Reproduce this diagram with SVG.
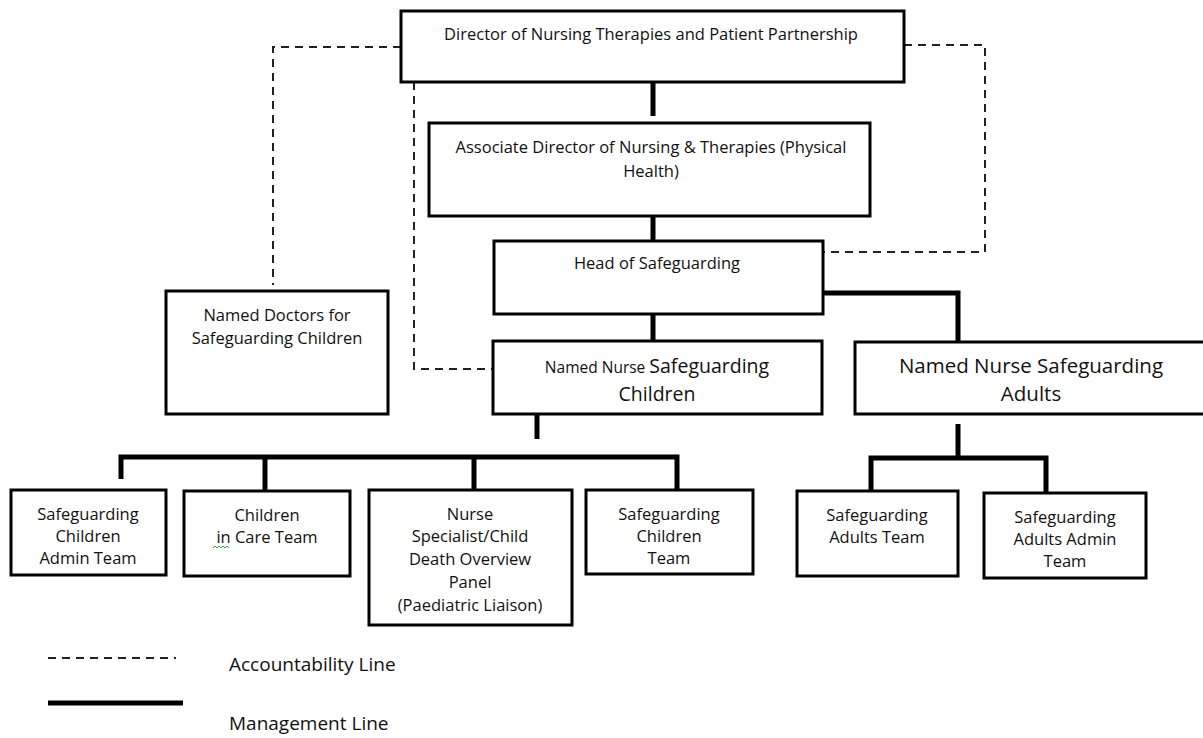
<svg xmlns="http://www.w3.org/2000/svg" width="1203" height="738" viewBox="0 0 1203 738">
<style>
.box{fill:#fff;stroke:#000;stroke-width:3}
.t{font-family:"Open Sans",Lato,sans-serif;font-size:16.5px;fill:#111;text-anchor:middle}
.tl{font-family:"Open Sans",Lato,sans-serif;font-size:19.5px;fill:#111;text-anchor:middle}
.lg{font-family:"Open Sans",Lato,sans-serif;font-size:19px;fill:#111}
.mg{fill:none;stroke:#000;stroke-width:5}
.ac{fill:none;stroke:#222;stroke-width:2;stroke-dasharray:8 6}
</style>
<rect width="1203" height="738" fill="#fff"/>
<g id="connectors">
<path class="ac" d="M401 47 H273 V285"/>
<path class="ac" d="M904 45 H985 V252 H823"/>
<path class="ac" d="M414 82 V369 H493"/>
<path class="mg" d="M653 82 V116"/>
<path class="mg" d="M653 216 V241"/>
<path class="mg" d="M653 314 V341"/>
<path class="mg" d="M823 293 H958 V342"/>
<path class="mg" d="M537 414 V439"/>
<path class="mg" d="M121 479 V457 H677 V490"/>
<path class="mg" d="M265 457 V490"/>
<path class="mg" d="M474 457 V490"/>
<path class="mg" d="M958 424 V458"/>
<path class="mg" d="M871 491 V458 H1046 V492"/>
</g>
<g id="director"><rect class="box" x="401" y="11" width="503" height="71"/><text class="t" x="651" y="40">Director of Nursing Therapies and Patient Partnership</text></g>
<g id="assoc"><rect class="box" x="429" y="123" width="441" height="93"/><text class="t" x="651" y="153">Associate Director of Nursing &amp; Therapies (Physical</text><text class="t" x="651" y="177">Health)</text></g>
<g id="head"><rect class="box" x="494" y="241" width="329" height="73"/><text class="t" x="657" y="269">Head of Safeguarding</text></g>
<g id="doctors"><rect class="box" x="166" y="291" width="222" height="123"/><text class="t" x="277" y="321">Named Doctors for</text><text class="t" x="277" y="344">Safeguarding Children</text></g>
<g id="nnchildren"><rect class="box" x="493" y="341" width="329" height="73"/><text class="tl" x="657" y="373"><tspan style="font-size:15.5px">Named Nurse </tspan>Safeguarding</text><text class="tl" x="657" y="401">Children</text></g>
<g id="nnadults"><rect class="box" x="855" y="342" width="350" height="72"/><text class="tl" x="1031" y="373" style="font-size:20.5px">Named Nurse Safeguarding</text><text class="tl" x="1031" y="401" style="font-size:20.5px">Adults</text></g>
<g id="scadmin"><rect class="box" x="11" y="490" width="155" height="85"/><text class="t" x="88" y="520">Safeguarding</text><text class="t" x="88" y="542">Children</text><text class="t" x="88" y="564">Admin Team</text></g>
<g id="cic"><rect class="box" x="184" y="491" width="166" height="85"/><text class="t" x="267" y="521">Children</text><text class="t" x="267" y="543">in Care Team</text><path d="M213 548 l2 -2 l2 2 l2 -2 l2 2 l2 -2 l2 2 l2 -2 l2 2" fill="none" stroke="#3a3" stroke-width="1"/></g>
<g id="nursespec"><rect class="box" x="369" y="490" width="203" height="135"/><text class="t" x="470" y="520">Nurse</text><text class="t" x="470" y="542">Specialist/Child</text><text class="t" x="470" y="565">Death Overview</text><text class="t" x="470" y="588">Panel</text><text class="t" x="470" y="611">(Paediatric Liaison)</text></g>
<g id="scteam"><rect class="box" x="586" y="490" width="167" height="84"/><text class="t" x="669" y="520">Safeguarding</text><text class="t" x="669" y="542">Children</text><text class="t" x="669" y="564">Team</text></g>
<g id="sateam"><rect class="box" x="797" y="491" width="161" height="85"/><text class="t" x="877" y="521">Safeguarding</text><text class="t" x="877" y="543">Adults Team</text></g>
<g id="saadmin"><rect class="box" x="984" y="493" width="162" height="85"/><text class="t" x="1065" y="523">Safeguarding</text><text class="t" x="1065" y="545">Adults Admin</text><text class="t" x="1065" y="567">Team</text></g>
<g id="legend">
<path class="ac" d="M48 658 H176"/>
<text class="lg" x="229" y="671">Accountability Line</text>
<path class="mg" d="M48 703 H183"/>
<text class="lg" x="229" y="730">Management Line</text>
</g>
</svg>
